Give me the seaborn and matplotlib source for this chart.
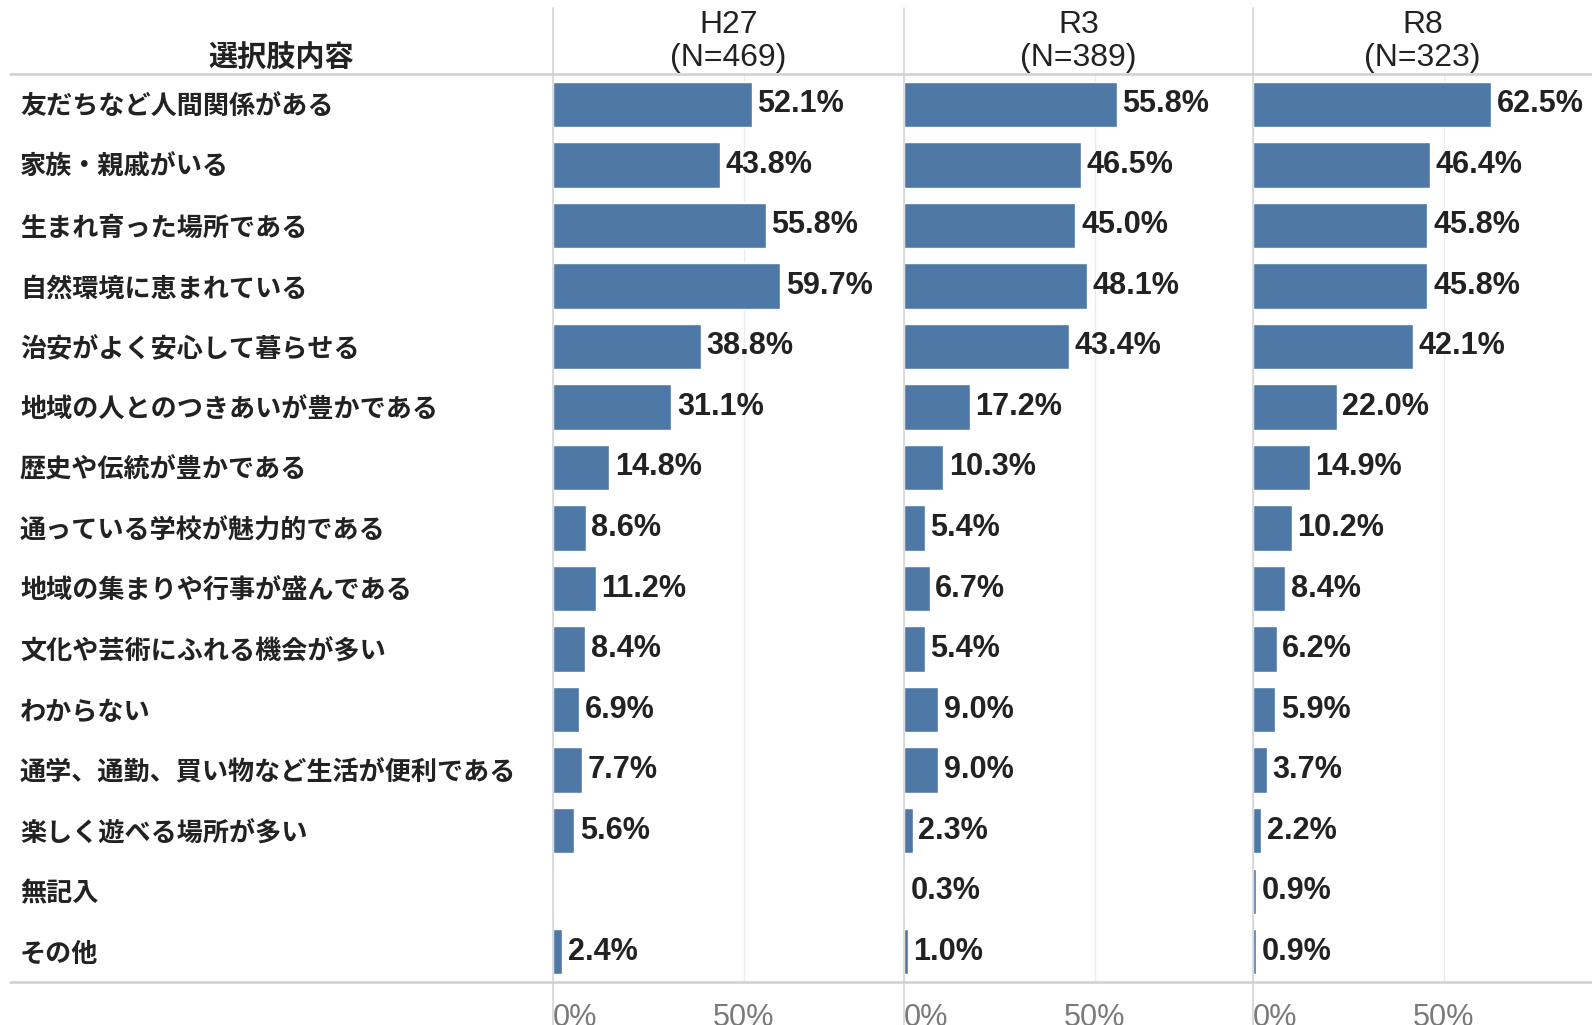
import numpy as np
import pandas as pd
import matplotlib
matplotlib.use('Agg')
import matplotlib.pyplot as plt
import seaborn as sns
from matplotlib.lines import Line2D
from matplotlib import font_manager

# データ
categories = ['友だちなど人間関係がある', '家族・親戚がいる', '生まれ育った場所である',
              '自然環境に恵まれている', '治安がよく安心して暮らせる',
              '地域の人とのつきあいが豊かである', '歴史や伝統が豊かである',
              '通っている学校が魅力的である', '地域の集まりや行事が盛んである',
              '文化や芸術にふれる機会が多い', 'わからない',
              '通学、通勤、買い物など生活が便利である', '楽しく遊べる場所が多い',
              '無記入', 'その他']
surveys = ['H27', 'R3', 'R8']
n_counts = [469, 389, 323]
h27 = [52.1, 43.8, 55.8, 59.7, 38.8, 31.1, 14.8, 8.6, 11.2, 8.4, 6.9, 7.7, 5.6, np.nan, 2.4]
r3 = [55.8, 46.5, 45.0, 48.1, 43.4, 17.2, 10.3, 5.4, 6.7, 5.4, 9.0, 9.0, 2.3, 0.3, 1.0]
r8 = [62.5, 46.4, 45.8, 45.8, 42.1, 22.0, 14.9, 10.2, 8.4, 6.2, 5.9, 3.7, 2.2, 0.9, 0.9]

df = pd.DataFrame({
    '選択肢内容': categories * 3,
    '調査': np.repeat(surveys, len(categories)),
    '割合': h27 + r3 + r8,
})
df['描画'] = df['割合'].fillna(0)

sns.set_theme(style='white')
jp_font = ['Noto Sans CJK JP', 'DejaVu Sans']
nombres = {f.name for f in font_manager.fontManager.ttflist}
if 'Liberation Sans Narrow' in nombres:
    num_font = ['Liberation Sans Narrow', 'DejaVu Sans']
    esc = 1.1
else:
    num_font = ['Liberation Sans', 'DejaVu Sans']
    esc = 0.9
plt.rcParams['font.family'] = jp_font

BAR = '#4E79A7'
W, H = 1592, 1025
fig = plt.figure(figsize=(W / 100, H / 100), dpi=100)


def caja(l, t, w, h):
    return [l / W, 1 - (t + h) / H, w / W, h / H]


top, bottom = 74, 982
lefts = [553, 904, 1253]
widths = [351, 349, 339]
px_pct = 190.5 / 50

for i, s in enumerate(surveys):
    ax = fig.add_axes(caja(lefts[i], top, widths[i], bottom - top))
    sub = df[df['調査'] == s]
    sns.barplot(data=sub, x='描画', y='選択肢内容', order=categories, color=BAR,
                saturation=1, width=0.75, orient='h', errorbar=None, ax=ax)
    ax.set_xlim(0, widths[i] / px_pct)
    etiquetas = ['' if np.isnan(v) else f'{v:.1f}%' for v in sub['割合']]
    ax.bar_label(ax.containers[0], labels=etiquetas, padding=4,
                 fontsize=24.5 * esc, family=num_font, weight='bold', color='#222222')
    ax.set_xticks([0, 50])
    ax.set_xticklabels(['0%', '50%'], family=num_font)
    ax.get_xticklabels()[0].set_ha('left')
    ax.tick_params(axis='x', length=0, pad=15, labelsize=24.5 * esc, labelcolor='#7a7a7a')
    ax.xaxis.grid(True, color='#ececec', lw=1)
    ax.set_xlabel('')
    ax.set_ylabel('')
    for sp in ax.spines.values():
        sp.set_visible(False)
    if i == 0:
        ax.tick_params(axis='y', length=0, pad=(lefts[0] - 20) * 0.72, labelsize=18.8)
        for lbl in ax.get_yticklabels():
            lbl.set_ha('left')
            lbl.set_fontweight('bold')
            lbl.set_color('#222222')
    else:
        ax.set_yticklabels([])
        ax.tick_params(axis='y', length=0)
    cx = (lefts[i] + widths[i] / 2) / W
    fig.text(cx, 1 - 25 / H, s, ha='center', va='center', fontsize=25.5 * esc,
             family=num_font, color='#222222')
    fig.text(cx, 1 - 58 / H, f'(N={n_counts[i]})', ha='center', va='center',
             fontsize=25.5 * esc, family=num_font, color='#222222')
    fig.add_artist(Line2D([lefts[i] / W] * 2, [0, 1 - 8 / H],
                          color='#d6d6d6', lw=1.2))

fig.text(281 / W, 1 - 57 / H, '選択肢内容', ha='center', va='center',
         fontsize=21, fontweight='bold', color='#222222')
for y in (top, bottom):
    fig.add_artist(Line2D([10 / W, 1], [1 - y / H] * 2, color='#d0d0d0', lw=1.8))

fig.savefig('out.png', dpi=100)
